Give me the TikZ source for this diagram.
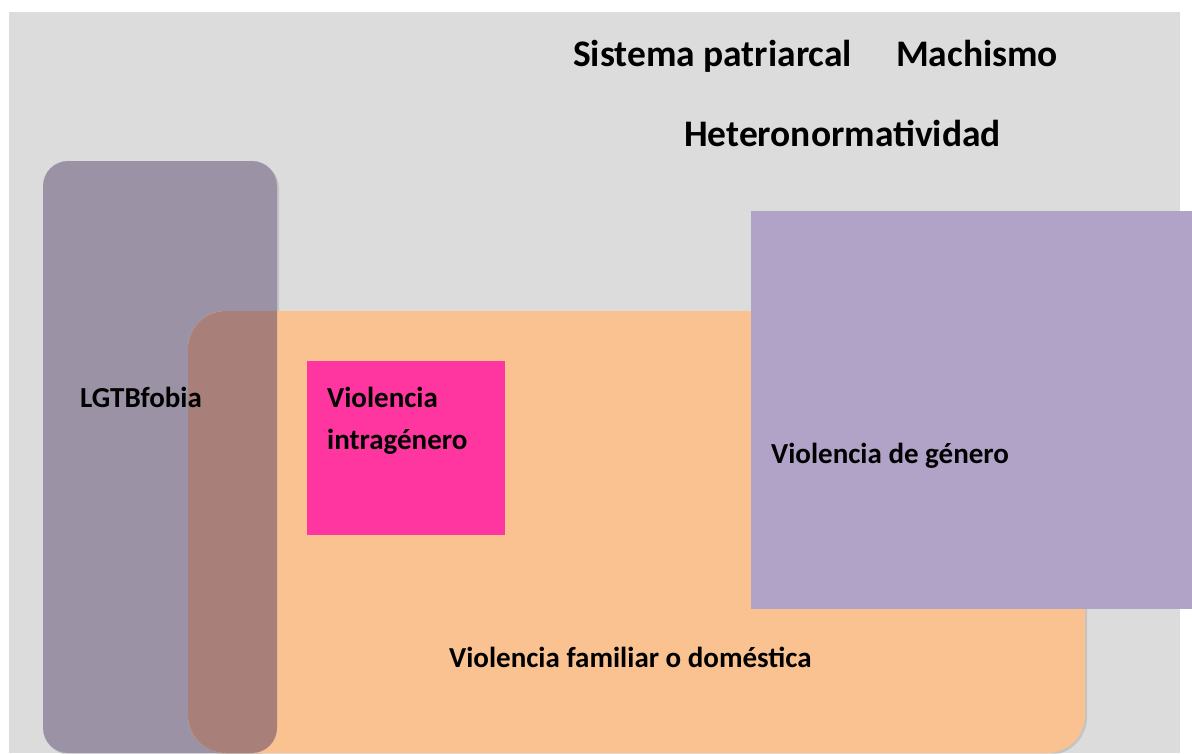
\documentclass[tikz,border=0pt]{standalone}
\usepackage{fontspec}
\setmainfont{Carlito}
\usetikzlibrary{shadows}
\definecolor{bggray}{HTML}{DCDCDC}
\definecolor{lgtbcol}{HTML}{9C92A5}
\definecolor{overlapcol}{HTML}{A88079}
\definecolor{orangecol}{HTML}{F9C290}
\definecolor{violetcol}{HTML}{B1A2C7}
\definecolor{pinkcol}{HTML}{FF369F}
\begin{document}
\begin{tikzpicture}[x=1pt,y=-1pt,
  box/.style={rectangle,inner sep=0pt,outer sep=0pt,anchor=north west},
  shad/.style={drop shadow={opacity=0.25,shadow xshift=2pt,shadow yshift=-2pt}},
  big/.style={anchor=base west,inner sep=0pt,font=\fontsize{37.5}{42}\selectfont\bfseries},
  lbl/.style={anchor=base west,inner sep=0pt,font=\fontsize{29}{33}\selectfont\bfseries,align=left}]
\fill[white] (0,0) rectangle (1192,753);
\useasboundingbox (0,0) rectangle (1192,753);
\fill[bggray] (9,12) rectangle (1180,753);
% LGTB box
\node[box,fill=lgtbcol,rounded corners=25pt,minimum width=234pt,minimum height=592pt,shad] (lgtb) at (43,161) {};
% Orange box
\node[box,fill=orangecol,rounded corners=38pt,minimum width=897pt,minimum height=442pt,shad] (fam) at (188,311) {};
% overlap
\begin{scope}
\clip[rounded corners=25pt] (43,161) rectangle (277,753);
\fill[overlapcol,rounded corners=38pt] (188,311) rectangle (1085,753);
\end{scope}
% Violet box
\node[box,fill=violetcol,minimum width=441pt,minimum height=398pt] (gen) at (751,211) {};
% Pink box
\node[box,fill=pinkcol,minimum width=198pt,minimum height=174pt] (intra) at (307,361) {};
% texts
\node[big] (t1) at (573,66) {Sistema patriarcal};
\node[big] (t2) at (896,66) {Machismo};
\node[big] (t3) at (684,146) {Heteronormatividad};
\node[lbl] (l1) at (80,407) {LGTBfobia};
\node[lbl] (l2) at (327,407) {Violencia};
\node[lbl] (l3) at (327,449) {intragénero};
\node[lbl] (l4) at (771,463) {Violencia de género};
\node[lbl] (l5) at (449,667) {Violencia familiar o doméstica};
\end{tikzpicture}
\end{document}
